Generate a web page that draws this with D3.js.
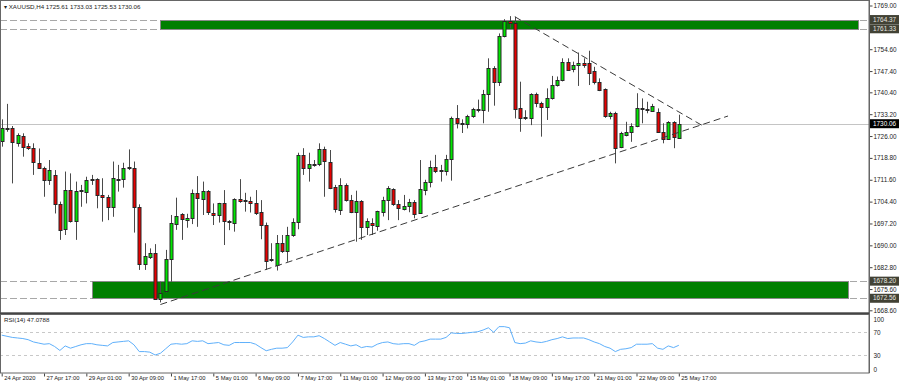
<!DOCTYPE html>
<html>
<head>
<meta charset="utf-8">
<title>XAUUSD H4</title>
<script src="https://cdnjs.cloudflare.com/ajax/libs/d3/7.8.5/d3.min.js"></script>
<style>
    body { margin: 0; background: #fff; }
    text { font-family: "Liberation Sans", Arial, sans-serif; fill: #1a1a1a; }
</style>
</head>
<body>
<svg id="chart" width="900" height="387"></svg>
<script>
// H4 bars, oldest first (index 0 = 24 Apr 2020)
var opens = [
    1724.4, 1728.6, 1728.8, 1723.8, 1726.1, 1722.6, 1721.9, 1717.2, 1715.6, 1711.5,
    1713.2, 1703.5, 1695.3, 1708.2, 1698.1, 1707.9, 1707.7, 1711.8, 1711.7, 1706.5,
    1706.0, 1702.7, 1711.9, 1711.7, 1715.4, 1715.4, 1702.7, 1683.9, 1686.0, 1687.4,
    1672.4, 1674.7, 1685.4, 1697.2, 1700.4, 1698.6, 1698.9, 1707.1, 1705.3, 1708.0,
    1700.5, 1700.0, 1703.8, 1697.9, 1697.2, 1705.3, 1704.8, 1704.6, 1704.0, 1701.0,
    1696.7, 1685.2, 1683.5, 1690.7, 1688.0, 1693.4, 1697.8, 1719.8, 1715.4, 1716.8,
    1716.8, 1721.6, 1717.6, 1709.1, 1701.6, 1709.9, 1704.9, 1701.1, 1704.7, 1696.1,
    1697.2, 1696.4, 1701.1, 1704.9, 1708.5, 1703.6, 1702.2, 1703.1, 1704.4, 1700.5,
    1708.5, 1710.6, 1715.7, 1714.8, 1714.5, 1718.4, 1732.0, 1730.3, 1730.0, 1732.6,
    1734.6, 1734.6, 1739.8, 1748.3, 1743.6, 1758.9, 1764.0, 1763.3, 1735.1, 1731.9,
    1731.8, 1739.8, 1736.8, 1735.4, 1738.4, 1742.8, 1744.7, 1750.5, 1748.0, 1749.4,
    1750.2, 1750.2, 1747.4, 1743.9, 1741.4, 1732.6, 1733.7, 1722.3, 1726.3, 1727.4,
    1729.3, 1735.1, 1734.8, 1734.4, 1734.0, 1727.4, 1725.2, 1730.7, 1725.61
];
var highs = [
    1731.5, 1736.6, 1729.3, 1726.9, 1726.9, 1723.6, 1723.6, 1721.9, 1715.9, 1718.1,
    1714.8, 1704.4, 1714.3, 1713.7, 1711.0, 1709.9, 1712.6, 1713.2, 1712.1, 1712.1,
    1706.6, 1717.6, 1716.5, 1717.2, 1721.6, 1717.6, 1703.5, 1690.7, 1689.0, 1690.4,
    1678.0, 1688.5, 1700.0, 1705.7, 1700.6, 1700.4, 1708.4, 1712.8, 1711.0, 1708.2,
    1703.8, 1704.0, 1708.2, 1698.3, 1705.5, 1711.8, 1707.3, 1706.0, 1708.2, 1704.9,
    1697.5, 1690.7, 1693.4, 1693.4, 1696.1, 1698.9, 1720.5, 1722.0, 1720.5, 1718.1,
    1723.6, 1722.5, 1721.4, 1709.9, 1712.1, 1710.4, 1706.6, 1708.0, 1704.9, 1698.9,
    1698.9, 1701.4, 1706.0, 1709.5, 1708.8, 1704.9, 1706.6, 1705.3, 1704.9, 1718.1,
    1711.6, 1717.9, 1719.8, 1716.5, 1719.8, 1732.4, 1736.2, 1731.5, 1733.0, 1735.3,
    1738.0, 1741.2, 1751.6, 1749.0, 1759.8, 1764.5, 1765.5, 1765.3, 1743.9, 1734.5,
    1740.1, 1740.3, 1737.3, 1741.7, 1745.8, 1745.6, 1751.6, 1751.6, 1750.5, 1753.5,
    1751.6, 1754.1, 1748.8, 1745.0, 1741.7, 1734.0, 1734.0, 1727.4, 1730.7, 1730.2,
    1740.1, 1738.4, 1737.3, 1736.6, 1735.1, 1730.2, 1730.9, 1730.9, 1733.03
];
var lows = [
    1722.5, 1727.4, 1710.4, 1722.5, 1719.2, 1721.4, 1713.2, 1715.4, 1706.0, 1709.9,
    1700.5, 1691.8, 1693.4, 1697.5, 1691.8, 1702.7, 1703.8, 1709.9, 1702.2, 1697.8,
    1698.3, 1699.4, 1707.7, 1709.0, 1714.8, 1694.2, 1681.9, 1681.9, 1685.5, 1672.0,
    1671.2, 1674.5, 1678.0, 1695.1, 1691.8, 1695.8, 1697.0, 1696.1, 1700.0, 1700.0,
    1696.7, 1697.5, 1690.1, 1695.0, 1694.5, 1704.0, 1701.1, 1700.8, 1700.0, 1692.0,
    1681.9, 1684.6, 1681.7, 1687.5, 1684.6, 1692.8, 1695.3, 1713.2, 1711.0, 1715.9,
    1716.1, 1706.0, 1708.5, 1700.8, 1700.0, 1704.4, 1700.6, 1691.2, 1691.8, 1693.4,
    1693.4, 1694.8, 1699.5, 1698.3, 1703.0, 1698.3, 1701.5, 1700.9, 1698.9, 1700.4,
    1706.5, 1709.1, 1713.8, 1711.0, 1713.0, 1711.3, 1728.5, 1727.0, 1728.5, 1732.0,
    1733.8, 1730.2, 1734.0, 1736.0, 1742.5, 1758.5, 1761.5, 1731.8, 1727.4, 1731.3,
    1729.6, 1735.5, 1725.8, 1731.3, 1738.0, 1742.3, 1744.0, 1747.5, 1747.0, 1742.5,
    1748.5, 1742.8, 1743.0, 1740.8, 1732.0, 1731.5, 1717.0, 1722.0, 1725.9, 1724.1,
    1728.9, 1730.2, 1733.5, 1734.0, 1727.0, 1723.6, 1724.8, 1722.0, 1725.53
];
var closes = [
    1728.8, 1728.4, 1724.1, 1726.3, 1722.5, 1721.8, 1717.2, 1715.6, 1711.5, 1714.8,
    1703.5, 1695.0, 1708.2, 1698.1, 1708.0, 1708.3, 1711.5, 1711.6, 1706.4, 1706.0,
    1702.7, 1712.1, 1711.6, 1715.4, 1715.7, 1702.7, 1683.9, 1686.5, 1687.4, 1672.2,
    1674.4, 1685.4, 1697.2, 1699.8, 1698.6, 1699.1, 1707.1, 1705.3, 1708.0, 1701.1,
    1700.0, 1703.8, 1697.8, 1697.7, 1705.2, 1704.6, 1704.6, 1704.0, 1700.7, 1696.7,
    1685.0, 1685.6, 1690.7, 1688.0, 1693.4, 1697.8, 1719.8, 1715.4, 1716.8, 1716.9,
    1721.6, 1717.6, 1709.1, 1701.9, 1709.9, 1704.9, 1701.1, 1704.7, 1696.1, 1698.1,
    1696.4, 1701.3, 1704.9, 1708.8, 1703.6, 1702.2, 1703.1, 1704.4, 1700.5, 1708.5,
    1711.0, 1715.7, 1714.5, 1714.6, 1718.4, 1731.8, 1730.2, 1730.1, 1732.6, 1734.8,
    1735.0, 1739.8, 1748.3, 1743.6, 1758.9, 1764.0, 1763.3, 1735.1, 1731.8, 1732.2,
    1739.8, 1736.8, 1735.4, 1738.4, 1742.8, 1744.5, 1750.5, 1748.0, 1749.4, 1750.2,
    1749.4, 1746.9, 1743.9, 1741.4, 1732.6, 1733.7, 1722.3, 1726.9, 1727.4, 1729.4,
    1735.1, 1734.8, 1734.4, 1735.9, 1727.4, 1725.2, 1730.7, 1725.8, 1730.06
];
var rsi = [
    65, 63, 61, 60, 59, 57, 53, 51, 49, 50,
    45, 38, 46, 42, 45, 48, 50, 50, 48, 47,
    46, 52, 53, 54, 55, 48, 36, 36, 35, 30,
    33, 41, 49, 50, 49, 50, 55, 54, 55, 50,
    51, 52, 48, 47, 52, 52, 52, 52, 49, 43,
    37.5, 40, 42, 42, 43, 53, 65, 61, 62, 62,
    64, 59, 53, 47, 52, 49, 46, 48, 43, 45,
    44, 49, 52, 53, 50, 49, 50, 50, 47, 53,
    55, 58, 58, 58, 61, 69, 68, 68, 69, 70,
    71, 74, 78, 70, 80, 80, 78, 52, 50, 51,
    55, 53, 52, 54, 57, 59, 62, 59, 60, 60,
    60, 57, 53, 50, 45, 42, 36, 40, 41, 43,
    49, 49, 49, 50, 42, 40, 46, 43, 47.0788
];

var timeLabels = ["24 Apr 2020", "27 Apr 17:00", "29 Apr 01:00", "30 Apr 09:00", "1 May 17:00",
    "5 May 01:00", "6 May 09:00", "7 May 17:00", "11 May 01:00", "12 May 09:00", "13 May 17:00",
    "15 May 01:00", "18 May 09:00", "19 May 17:00", "21 May 01:00", "22 May 09:00", "25 May 17:00"];
var priceTicks = [1769.00, 1754.60, 1747.40, 1740.40, 1733.20, 1726.00, 1718.80, 1711.60,
    1704.40, 1697.20, 1690.00, 1682.80, 1675.60, 1668.60];
var rsiTicks = [100, 70, 30, 0];
var rsiLevels = [70, 30];

// objects drawn on the chart (bar index / price)
var upperZone = [1764.37, 1761.33];
var upperZoneBars = [30, 162];
var lowerZone = [1678.20, 1672.56];
var lowerZoneBars = [17, 160];
var supportLine = [[30, 1670.5], [137.3, 1732.6]];
var resistLine = [[97, 1765.3], [132.3, 1729.6]];
var lastPrice = 1730.06;

var svg = d3.select("#chart");
var plotRight = 869, mainBottom = 313, rsiTop = 315, rsiBottom = 373;

var x = d3.scaleLinear().domain([0, 128]).range([1.7, 1.7 + 5.29 * 128]);
var y = d3.scaleLinear().domain([1668.6, 1769]).range([310.3, 5.5]);
var yr = d3.scaleLinear().domain([0, 100]).range([372, 315.3]);

svg.append("clipPath").attr("id", "mainClip")
    .append("rect").attr("x", 1).attr("y", 1).attr("width", plotRight - 1).attr("height", mainBottom - 1);
svg.append("clipPath").attr("id", "rsiClip")
    .append("rect").attr("x", 1).attr("y", rsiTop).attr("width", plotRight - 1).attr("height", rsiBottom - rsiTop);

var main = svg.append("g").attr("clip-path", "url(#mainClip)");

// horizontal dashed levels of the zones
upperZone.concat(lowerZone).forEach(function(p) {
    main.append("line")
        .attr("x1", 0).attr("x2", plotRight)
        .attr("y1", Math.round(y(p)) + 0.5).attr("y2", Math.round(y(p)) + 0.5)
        .attr("stroke", "#a8a8a8").attr("stroke-dasharray", "7,3");
});

// zones
[[upperZone, upperZoneBars], [lowerZone, lowerZoneBars]].forEach(function(z) {
    main.append("rect")
        .attr("x", Math.round(x(z[1][0])) + 0.5)
        .attr("y", Math.round(y(z[0][0])) + 0.5)
        .attr("width", Math.round(x(z[1][1]) - x(z[1][0])))
        .attr("height", Math.round(y(z[0][1]) - y(z[0][0])))
        .attr("fill", "#007f00").attr("stroke", "#8a8a8a");
});

// current price line
main.append("line")
    .attr("x1", 0).attr("x2", plotRight)
    .attr("y1", Math.round(y(lastPrice)) + 0.5).attr("y2", Math.round(y(lastPrice)) + 0.5)
    .attr("stroke", "#c4c4c4");

// candles
var bars = d3.range(opens.length);
var candle = main.selectAll("g.candle").data(bars).enter().append("g").attr("class", "candle");
candle.append("line")
    .attr("x1", function(i) { return Math.round(x(i)) + 0.5; })
    .attr("x2", function(i) { return Math.round(x(i)) + 0.5; })
    .attr("y1", function(i) { return y(highs[i]); })
    .attr("y2", function(i) { return y(lows[i]); })
    .attr("stroke", "#4a4a4a");
candle.append("rect")
    .attr("x", function(i) { return Math.round(x(i)) - 1; })
    .attr("width", 3)
    .attr("y", function(i) { return Math.round(y(Math.max(opens[i], closes[i]))) + 0.5; })
    .attr("height", function(i) { return Math.max(1, Math.round(Math.abs(y(opens[i]) - y(closes[i])))); })
    .attr("fill", function(i) { return closes[i] >= opens[i] ? "#00e800" : "#e80000"; })
    .attr("stroke", "#262626");

// trend lines
[supportLine, resistLine].forEach(function(l) {
    main.append("line")
        .attr("x1", x(l[0][0])).attr("y1", y(l[0][1]))
        .attr("x2", x(l[1][0])).attr("y2", y(l[1][1]))
        .attr("stroke", "#3a3a3a").attr("stroke-dasharray", "7,4");
});

// RSI panel
var rsiG = svg.append("g").attr("clip-path", "url(#rsiClip)");
rsiLevels.forEach(function(v) {
    rsiG.append("line")
        .attr("x1", 0).attr("x2", plotRight)
        .attr("y1", Math.round(yr(v)) + 0.5).attr("y2", Math.round(yr(v)) + 0.5)
        .attr("stroke", "#c8c8c8").attr("stroke-dasharray", "3,3");
});
rsiG.append("path")
    .datum(bars)
    .attr("fill", "none")
    .attr("stroke", "#5fb0fb")
    .attr("stroke-width", 1)
    .attr("d", d3.line().x(function(i) { return x(i); }).y(function(i) { return yr(rsi[i]); }));

// frames
svg.append("rect").attr("x", 0.5).attr("y", 0.5).attr("width", plotRight - 0.5).attr("height", mainBottom - 0.5)
    .attr("fill", "none").attr("stroke", "#666");
svg.append("line").attr("x1", 0).attr("x2", plotRight).attr("y1", mainBottom + 0.5).attr("y2", mainBottom + 0.5)
    .attr("stroke", "#444").attr("stroke-width", 2);
svg.append("rect").attr("x", 0.5).attr("y", rsiTop - 0.5).attr("width", plotRight - 0.5).attr("height", rsiBottom - rsiTop + 0.5)
    .attr("fill", "none").attr("stroke", "#666");

// price axis
var yAxis = svg.append("g")
    .attr("transform", "translate(" + (plotRight + 0.5) + ",0)")
    .call(d3.axisRight(y).tickValues(priceTicks).tickFormat(d3.format(".2f")).tickSize(3).tickPadding(1));
yAxis.select(".domain").remove();
yAxis.selectAll("line").attr("stroke", "#444");
yAxis.selectAll("text").attr("font-size", "6.4px").attr("fill", "#1a1a1a")
    .attr("font-family", "'Liberation Sans', Arial, sans-serif");

// highlighted price labels
function priceTag(p, bg, fg) {
    var g = svg.append("g").attr("transform", "translate(" + (plotRight + 1) + "," + y(p) + ")");
    g.append("rect").attr("x", 0).attr("y", -4.5).attr("width", 29).attr("height", 9).attr("fill", bg);
    g.append("text").attr("x", 3).attr("dy", "0.34em").attr("font-size", "6.4px")
        .style("fill", fg).text(d3.format(".2f")(p));
}
upperZone.concat(lowerZone).forEach(function(p) { priceTag(p, "#424235", "#e8e8e0"); });
priceTag(lastPrice, "#000", "#fff");

// RSI axis
var rAxis = svg.append("g")
    .attr("transform", "translate(" + (plotRight + 0.5) + ",0)")
    .call(d3.axisRight(yr).tickValues(rsiTicks).tickSize(0).tickPadding(4));
rAxis.select(".domain").remove();
rAxis.selectAll("text").attr("font-size", "6.4px").attr("fill", "#1a1a1a")
    .attr("font-family", "'Liberation Sans', Arial, sans-serif")
    .attr("dy", function(d) { return d === 100 ? "0.9em" : (d === 0 ? "-0.1em" : "0.34em"); });

svg.append("line").attr("x1", plotRight + 0.5).attr("x2", plotRight + 0.5).attr("y1", 0).attr("y2", rsiBottom)
    .attr("stroke", "#666");

// time axis
var xAxis = svg.append("g")
    .attr("transform", "translate(0," + (rsiBottom + 0.5) + ")")
    .call(d3.axisBottom(x).tickValues(d3.range(0, 129, 8))
        .tickFormat(function(d, i) { return timeLabels[i]; }).tickSize(3).tickPadding(1));
xAxis.select(".domain").remove();
xAxis.selectAll("line").attr("stroke", "#444");
xAxis.selectAll("text").attr("font-size", "5.8px").attr("fill", "#1a1a1a")
    .attr("font-family", "'Liberation Sans', Arial, sans-serif")
    .attr("text-anchor", "start").attr("x", 2).attr("y", 2);

// titles
svg.append("text").attr("x", 4).attr("y", 9).attr("font-size", "6.2px")
    .text("\u25BE XAUUSD,H4  1725.61 1733.03 1725.53 1730.06");
svg.append("text").attr("x", 4).attr("y", 322).attr("font-size", "6.2px")
    .text("RSI(14) 47.0788");
</script>
</body>
</html>
